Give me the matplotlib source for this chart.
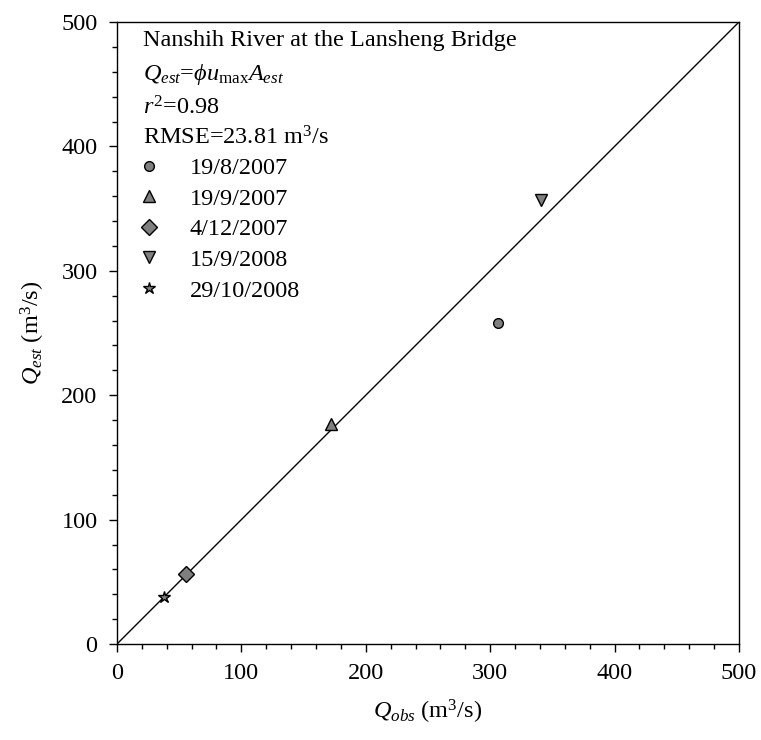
import matplotlib
matplotlib.use("Agg")
import matplotlib.pyplot as plt
from matplotlib.lines import Line2D
from matplotlib.ticker import MultipleLocator

plt.rcParams['font.family'] = ['Liberation Serif', 'DejaVu Serif']
plt.rcParams['mathtext.fontset'] = 'custom'
plt.rcParams['mathtext.rm'] = 'Liberation Serif'
plt.rcParams['mathtext.it'] = 'Liberation Serif:italic'

# Observed vs estimated discharge per event
dates = ['19/8/2007', '19/9/2007', '4/12/2007', '15/9/2008', '29/10/2008']
q_obs = [306.5, 172, 55.5, 341, 37.5]
q_est = [258, 177, 56, 357, 37.5]
markers = ['o', '^', 'D', 'v', '*']
sizes = [7, 8.5, 8, 8.5, 9]

FS = 17.5

fig = plt.figure(figsize=(7.61, 7.40), dpi=100)
ax = fig.add_axes([0.1537, 0.1297, 0.8173, 0.8405])

# 1:1 line
ax.plot([0, 500], [0, 500], color='black', lw=1.0, zorder=1)

for d, xo, ye, m, s in zip(dates, q_obs, q_est, markers, sizes):
    ax.plot(xo, ye, linestyle='none', marker=m, ms=s, mfc='#7f7f7f',
            mec='black', mew=1.0, zorder=3)

ax.set_xlim(0, 500)
ax.set_ylim(0, 500)
ax.xaxis.set_major_locator(MultipleLocator(100))
ax.xaxis.set_minor_locator(MultipleLocator(20))
ax.yaxis.set_major_locator(MultipleLocator(100))
ax.yaxis.set_minor_locator(MultipleLocator(20))
ax.tick_params(which='major', direction='out', length=6, width=1.0, labelsize=FS, pad=8)
ax.tick_params(which='minor', direction='out', length=3.5, width=1.0)
for sp in ax.spines.values():
    sp.set_linewidth(1.0)

ax.set_xlabel(r'$Q_{obs}$ (m$^3$/s)', fontsize=FS, labelpad=10)
ax.set_ylabel(r'$Q_{est}$ (m$^3$/s)', fontsize=FS, labelpad=10)

# annotation block
lines = ['Nanshih River at the Lansheng Bridge',
         r'$Q_{est}$=$\phi u_{\mathrm{max}}A_{est}$',
         r'$r^2$=0.98',
         r'RMSE=23.81 m$^3$/s']
ys = [0.971, 0.915, 0.862, 0.813]
for t, y in zip(lines, ys):
    ax.text(0.042, y, t, transform=ax.transAxes, fontsize=FS, va='center', ha='left')

handles = [Line2D([], [], linestyle='none', marker=m, ms=s, mfc='#7f7f7f',
                  mec='black', mew=1.0) for m, s in zip(markers, sizes)]
ax.legend(handles, dates, loc='upper left', bbox_to_anchor=(0.02, 0.798),
          frameon=False, fontsize=FS, handlelength=0.8, handletextpad=1.27,
          labelspacing=0.35, borderaxespad=0)

fig.savefig('out.png', dpi=100)
